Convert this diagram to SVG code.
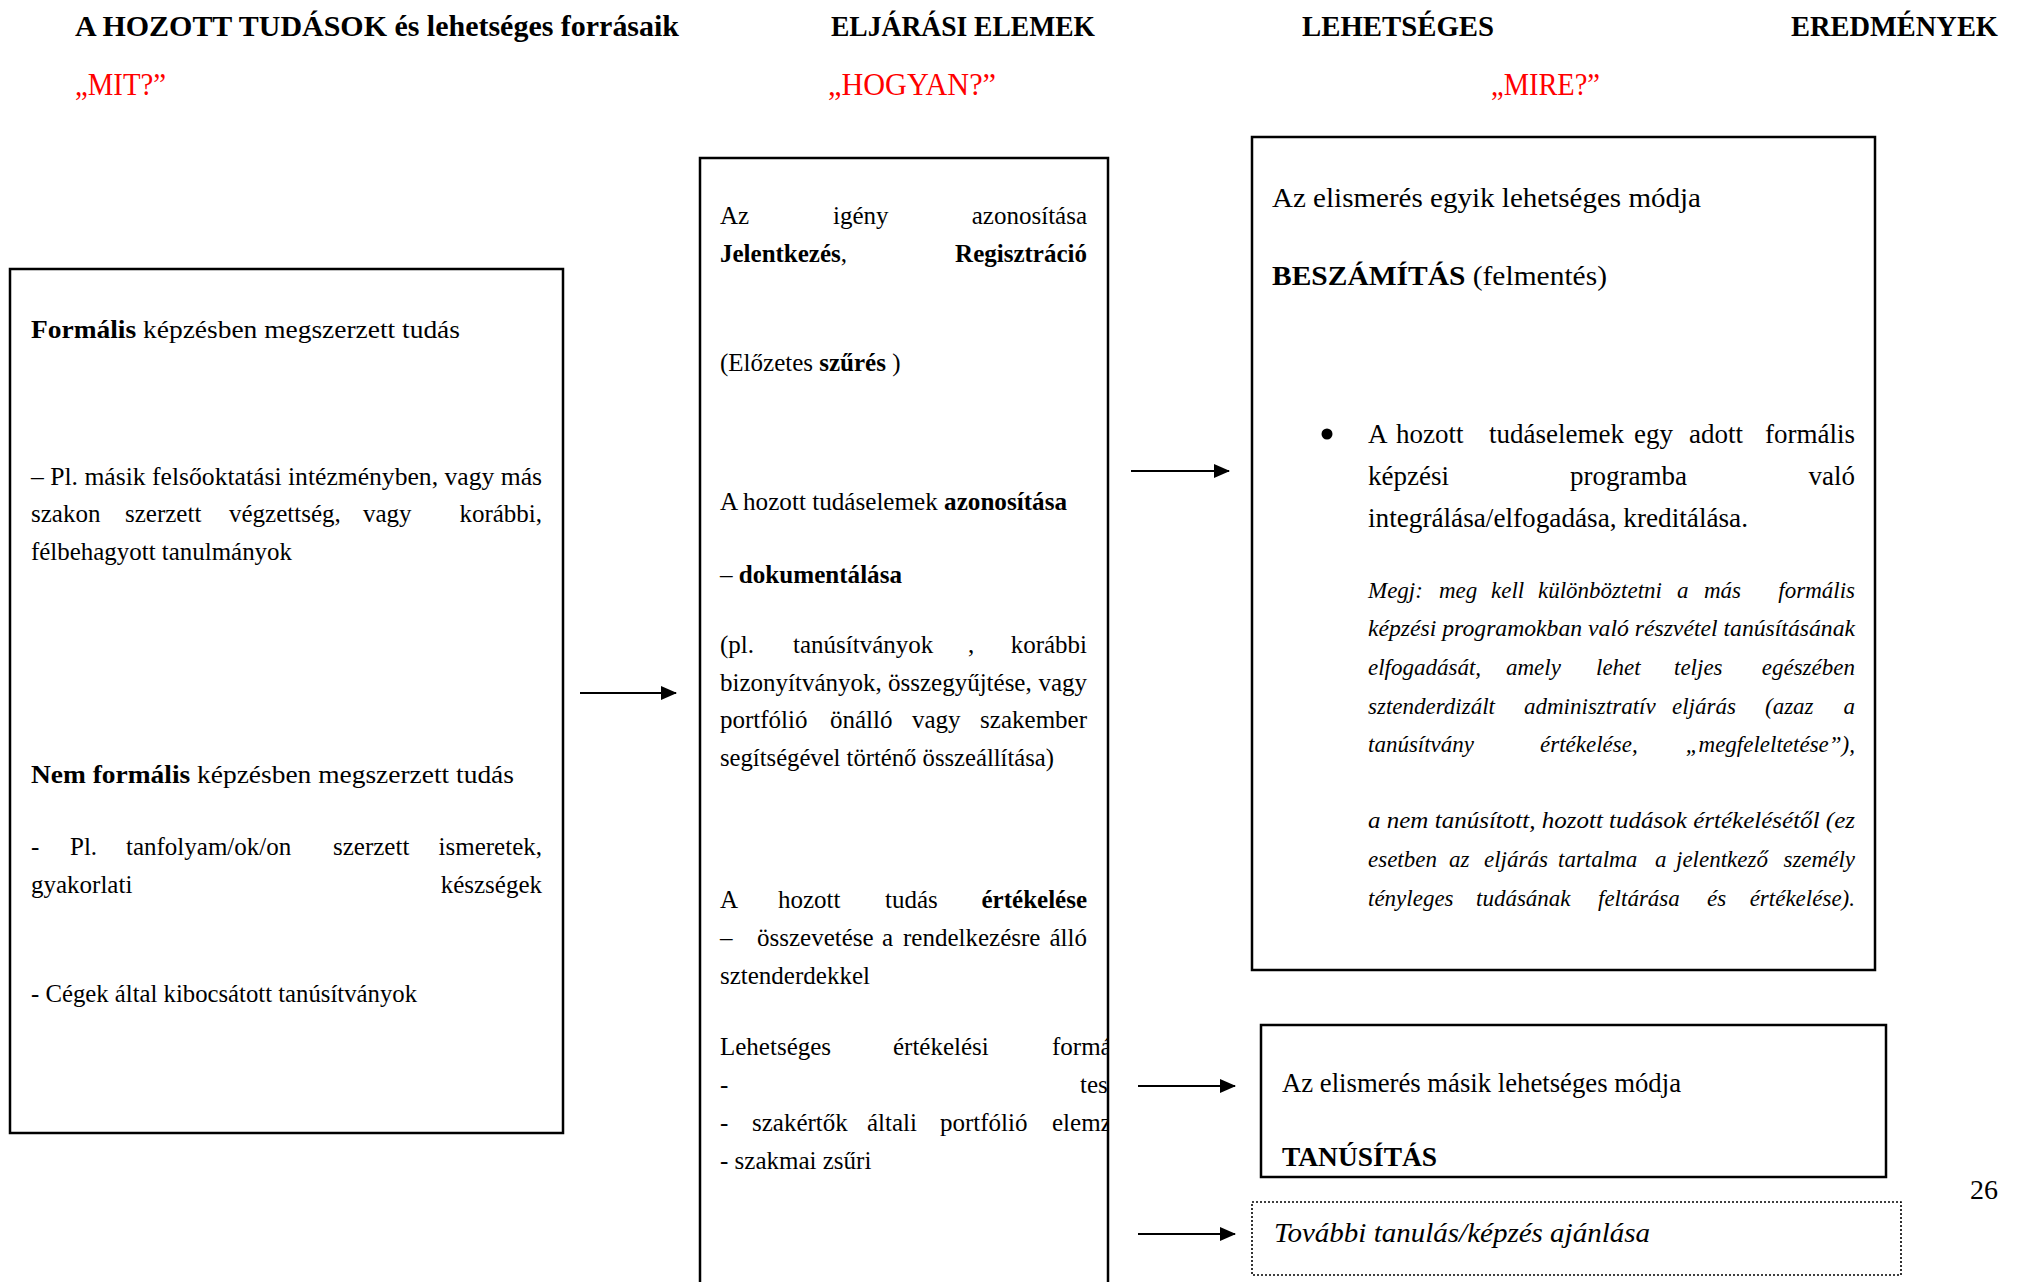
<svg xmlns="http://www.w3.org/2000/svg" width="2020" height="1282" viewBox="0 0 2020 1282">
<style>
text { font-family: "Liberation Serif", "DejaVu Serif", serif; fill: #000; }
.h { font-weight: bold; font-size: 30px; }
.r { fill: #ff0000; font-size: 31px; }
.s { font-size: 25px; }
.m { font-size: 28px; }
.p { font-size: 27px; }
.it { font-style: italic; font-size: 23px; }
.b { font-weight: bold; }
.box { fill: none; stroke: #000; stroke-width: 2.5; }
.dot { fill: none; stroke: #000; stroke-width: 1.6; stroke-dasharray: 2 2; }
.conn { stroke: #000; stroke-width: 2; fill: none; marker-end: url(#ah); }
</style>
<defs>
<marker id="ah" markerUnits="userSpaceOnUse" markerWidth="16" markerHeight="14" refX="15" refY="7" orient="auto">
<path d="M0,0 L16,7 L0,14 Z" fill="#000"/>
</marker>
<clipPath id="midclip"><rect x="700" y="150" width="407" height="1140"/></clipPath>
</defs>

<g id="headers">
<text class="h" x="75" y="36" textLength="604" lengthAdjust="spacingAndGlyphs">A HOZOTT TUDÁSOK és lehetséges forrásaik</text>
<text class="h" x="831" y="36" textLength="264" lengthAdjust="spacingAndGlyphs">ELJÁRÁSI ELEMEK</text>
<text class="h" x="1302" y="36" textLength="192" lengthAdjust="spacingAndGlyphs">LEHETSÉGES</text>
<text class="h" x="1791" y="36" textLength="207" lengthAdjust="spacingAndGlyphs">EREDMÉNYEK</text>
<text class="r" x="75" y="95" textLength="91" lengthAdjust="spacingAndGlyphs">„MIT?”</text>
<text class="r" x="828" y="95" textLength="168" lengthAdjust="spacingAndGlyphs">„HOGYAN?”</text>
<text class="r" x="1491" y="95" textLength="109" lengthAdjust="spacingAndGlyphs">„MIRE?”</text>
</g>

<g id="node-sources">
<rect class="box" x="10" y="269" width="553" height="864"/>
<text class="s" x="31" y="338" textLength="429" lengthAdjust="spacingAndGlyphs"><tspan class="b">Formális</tspan> képzésben megszerzett tudás</text>
<text class="s" x="31" y="485" textLength="511" lengthAdjust="spacingAndGlyphs">– Pl. másik felsőoktatási intézményben, vagy más</text>
<text class="s" y="522"><tspan x="31">szakon</tspan><tspan x="125">szerzett</tspan><tspan x="229">végzettség,</tspan><tspan x="363">vagy</tspan></text>
<text class="s" x="542" y="522" text-anchor="end">korábbi,</text>
<text class="s" x="31" y="560" textLength="261" lengthAdjust="spacingAndGlyphs">félbehagyott tanulmányok</text>
<text class="s" x="31" y="783" textLength="483" lengthAdjust="spacingAndGlyphs"><tspan class="b">Nem formális</tspan> képzésben megszerzett tudás</text>
<text class="s" y="855"><tspan x="31">-</tspan><tspan x="70">Pl.</tspan><tspan x="126">tanfolyam/ok/on</tspan><tspan x="333">szerzett</tspan></text>
<text class="s" x="542" y="855" text-anchor="end">ismeretek,</text>
<text class="s" x="31" y="893">gyakorlati</text>
<text class="s" x="542" y="893" text-anchor="end">készségek</text>
<text class="s" x="31" y="1002" textLength="386" lengthAdjust="spacingAndGlyphs">- Cégek által kibocsátott tanúsítványok</text>
</g>

<g id="node-procedure">
<rect class="box" x="700" y="158" width="408" height="1200"/>
<g clip-path="url(#midclip)">
<text class="s" y="224"><tspan x="720">Az</tspan><tspan x="833">igény</tspan></text>
<text class="s" x="1087" y="224" text-anchor="end">azonosítása</text>
<text class="s" x="720" y="262"><tspan class="b">Jelentkezés</tspan>,</text>
<text class="s b" x="1087" y="262" text-anchor="end">Regisztráció</text>
<text class="s" x="720" y="371">(Előzetes <tspan class="b">szűrés</tspan> )</text>
<text class="s" x="720" y="510" textLength="347" lengthAdjust="spacingAndGlyphs">A hozott tudáselemek <tspan class="b">azonosítása</tspan></text>
<text class="s" x="720" y="583" textLength="182" lengthAdjust="spacingAndGlyphs">– <tspan class="b">dokumentálása</tspan></text>
<text class="s" y="653"><tspan x="720">(pl.</tspan><tspan x="793">tanúsítványok</tspan><tspan x="968">,</tspan></text>
<text class="s" x="1087" y="653" text-anchor="end">korábbi</text>
<text class="s" y="691"><tspan x="720">bizonyítványok,</tspan><tspan x="888">összegyűjtése,</tspan></text>
<text class="s" x="1087" y="691" text-anchor="end">vagy</text>
<text class="s" y="728"><tspan x="720">portfólió</tspan><tspan x="830">önálló</tspan><tspan x="912">vagy</tspan></text>
<text class="s" x="1087" y="728" text-anchor="end">szakember</text>
<text class="s" x="720" y="766" textLength="334" lengthAdjust="spacingAndGlyphs">segítségével történő összeállítása)</text>
<text class="s" y="908"><tspan x="720">A</tspan><tspan x="778">hozott</tspan><tspan x="885">tudás</tspan></text>
<text class="s b" x="1087" y="908" text-anchor="end">értékelése</text>
<text class="s" y="946"><tspan x="720">–</tspan><tspan x="757">összevetése</tspan><tspan x="882">a</tspan><tspan x="903">rendelkezésre</tspan></text>
<text class="s" x="1087" y="946" text-anchor="end">álló</text>
<text class="s" x="720" y="984">sztenderdekkel</text>
<text class="s" y="1055"><tspan x="720">Lehetséges</tspan><tspan x="893">értékelési</tspan><tspan x="1052">formá</tspan></text>
<text class="s" y="1093"><tspan x="720">-</tspan><tspan x="1080">tes</tspan></text>
<text class="s" y="1131"><tspan x="720">-</tspan><tspan x="752">szakértők</tspan><tspan x="867">általi</tspan><tspan x="940">portfólió</tspan><tspan x="1052">elemz</tspan></text>
<text class="s" x="720" y="1169">- szakmai zsűri</text>
</g>
</g>

<g id="node-credit">
<rect class="box" x="1252" y="137" width="623" height="833"/>
<text class="m" x="1272" y="207" textLength="429" lengthAdjust="spacingAndGlyphs">Az elismerés egyik lehetséges módja</text>
<text class="m" x="1272" y="285" textLength="335" lengthAdjust="spacingAndGlyphs"><tspan class="b">BESZÁMÍTÁS</tspan> (felmentés)</text>
<circle cx="1327" cy="434" r="5.5" fill="#000"/>
<text class="p" y="443"><tspan x="1368">A</tspan><tspan x="1396">hozott</tspan><tspan x="1489">tudáselemek</tspan><tspan x="1634">egy</tspan><tspan x="1689">adott</tspan></text>
<text class="p" x="1855" y="443" text-anchor="end">formális</text>
<text class="p" y="485"><tspan x="1368">képzési</tspan><tspan x="1570">programba</tspan></text>
<text class="p" x="1855" y="485" text-anchor="end">való</text>
<text class="p" x="1368" y="527" textLength="380" lengthAdjust="spacingAndGlyphs">integrálása/elfogadása, kreditálása.</text>
<text class="it" y="598"><tspan x="1368">Megj:</tspan><tspan x="1439">meg</tspan><tspan x="1491">kell</tspan><tspan x="1538">különböztetni</tspan><tspan x="1677">a</tspan><tspan x="1704">más</tspan></text>
<text class="it" x="1855" y="598" text-anchor="end">formális</text>
<text class="it" x="1368" y="636" textLength="487" lengthAdjust="spacingAndGlyphs">képzési programokban való részvétel tanúsításának</text>
<text class="it" y="675"><tspan x="1368">elfogadását,</tspan><tspan x="1506">amely</tspan><tspan x="1596">lehet</tspan><tspan x="1674">teljes</tspan></text>
<text class="it" x="1855" y="675" text-anchor="end">egészében</text>
<text class="it" y="714"><tspan x="1368">sztenderdizált</tspan><tspan x="1524">adminisztratív</tspan><tspan x="1672">eljárás</tspan><tspan x="1765">(azaz</tspan></text>
<text class="it" x="1855" y="714" text-anchor="end">a</text>
<text class="it" y="752"><tspan x="1368">tanúsítvány</tspan><tspan x="1540">értékelése,</tspan></text>
<text class="it" x="1855" y="752" text-anchor="end">„megfeleltetése”),</text>
<text class="it" x="1368" y="828" textLength="487" lengthAdjust="spacingAndGlyphs">a nem tanúsított, hozott tudások értékelésétől (ez</text>
<text class="it" y="867"><tspan x="1368">esetben</tspan><tspan x="1449">az</tspan><tspan x="1484">eljárás</tspan><tspan x="1558">tartalma</tspan><tspan x="1655">a</tspan><tspan x="1676">jelentkező</tspan></text>
<text class="it" x="1855" y="867" text-anchor="end">személy</text>
<text class="it" y="906"><tspan x="1368">tényleges</tspan><tspan x="1476">tudásának</tspan><tspan x="1598">feltárása</tspan><tspan x="1707">és</tspan></text>
<text class="it" x="1855" y="906" text-anchor="end">értékelése).</text>
</g>

<g id="node-certification">
<rect class="box" x="1261" y="1025" width="625" height="152"/>
<text class="m" x="1282" y="1092" textLength="399" lengthAdjust="spacingAndGlyphs">Az elismerés másik lehetséges módja</text>
<text class="m b" x="1282" y="1166" textLength="155" lengthAdjust="spacingAndGlyphs">TANÚSÍTÁS</text>
</g>

<g id="node-further">
<rect class="dot" x="1252" y="1202" width="649" height="73"/>
<text class="m" font-style="italic" font-size="29" x="1274" y="1242" textLength="376" lengthAdjust="spacingAndGlyphs">További tanulás/képzés ajánlása</text>
</g>

<text class="m" x="1998" y="1199" text-anchor="end">26</text>

<g id="connectors">
<line class="conn" x1="580" y1="693" x2="676" y2="693"/>
<line class="conn" x1="1131" y1="471" x2="1229" y2="471"/>
<line class="conn" x1="1138" y1="1086" x2="1235" y2="1086"/>
<line class="conn" x1="1138" y1="1234" x2="1235" y2="1234"/>
</g>
</svg>
